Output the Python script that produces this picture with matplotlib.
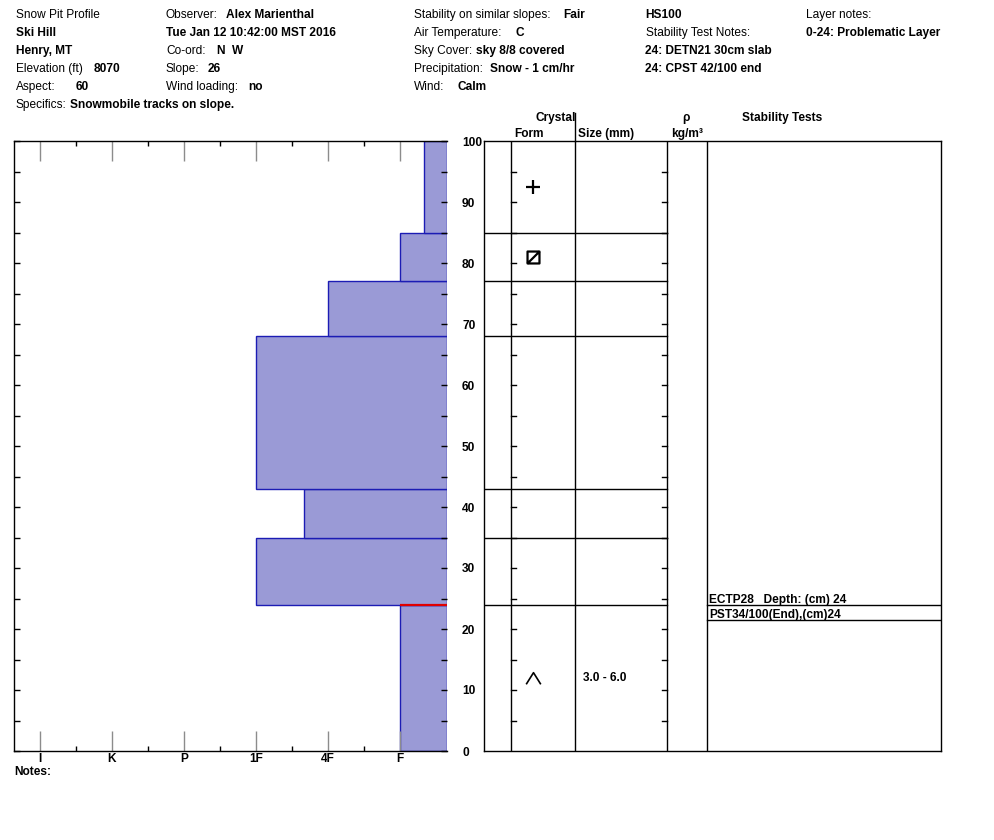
import matplotlib
matplotlib.use('Agg')
import matplotlib.pyplot as plt
from matplotlib.path import Path
import numpy as np

plt.rcParams['font.family'] = ['Liberation Sans', 'DejaVu Sans']

# ---------------- data ----------------
layer_bottom = [0, 24, 35, 43, 68, 77, 85]
layer_top = [24, 35, 43, 68, 77, 85, 100]
layer_hardness = ['F', '1F', '4F+', '1F', '4F', 'F', 'F-']
layer_form = ['DH', '', '', '', '', 'FCxr', 'PP']
layer_size = ['3.0 - 6.0', '', '', '', '', '', '']
hardness_labels = ['I', 'K', 'P', '1F', '4F', 'F']
problem_depth = 24
stability_tests = ['ECTP28   Depth: (cm) 24', 'PST34/100(End),(cm)24']
stability_depth = [24, 24]
depth_ticks = list(range(0, 101, 10))

site = 'Ski Hill'
location = 'Henry, MT'
elevation = '8070'
aspect = '60'
specifics = 'Snowmobile tracks on slope.'
observer = 'Alex Marienthal'
date_str = 'Tue Jan 12 10:42:00 MST 2016'
coord = 'N  W'
slope = '26'
wind_loading = 'no'
stability_similar = 'Fair'
air_temp = 'C'
sky_cover = 'sky 8/8 covered'
precip = 'Snow - 1 cm/hr'
wind = 'Calm'
hs = 'HS100'
test_notes = ['24: DETN21 30cm slab', '24: CPST 42/100 end']
layer_notes = ['0-24: Problematic Layer']

# ---------------- figure ----------------
W, H = 994, 840
fig = plt.figure(figsize=(W / 100, H / 100), dpi=100)
fig.patch.set_facecolor('white')


def fx(px):
    return px / W


def fy(py):
    return 1 - py / H


FS = 8.6


def ftext(x, y, s, bold=False, **kw):
    fig.text(fx(x), fy(y), s, fontsize=FS, fontweight='bold' if bold else 'normal',
             va='baseline', ha=kw.pop('ha', 'left'), color='black', **kw)


# header
rows = [18 + 18 * i for i in range(6)]
ftext(16, rows[0], 'Snow Pit Profile')
ftext(16, rows[1], site, True)
ftext(16, rows[2], location, True)
ftext(16, rows[3], 'Elevation (ft)')
ftext(94, rows[3], elevation, True)
ftext(16, rows[4], 'Aspect:')
ftext(76, rows[4], aspect, True)
ftext(16, rows[5], 'Specifics:')
ftext(70, rows[5], specifics, True)

ftext(166, rows[0], 'Observer:')
ftext(226, rows[0], observer, True)
ftext(166, rows[1], date_str, True)
ftext(166, rows[2], 'Co-ord:')
ftext(217, rows[2], coord, True)
ftext(166, rows[3], 'Slope:')
ftext(208, rows[3], slope, True)
ftext(166, rows[4], 'Wind loading:')
ftext(248, rows[4], wind_loading, True)

ftext(414, rows[0], 'Stability on similar slopes:')
ftext(563, rows[0], stability_similar, True)
ftext(414, rows[1], 'Air Temperature:')
ftext(515, rows[1], air_temp, True)
ftext(414, rows[2], 'Sky Cover:')
ftext(476, rows[2], sky_cover, True)
ftext(414, rows[3], 'Precipitation:')
ftext(490, rows[3], precip, True)
ftext(414, rows[4], 'Wind:')
ftext(458, rows[4], wind, True)

ftext(645, rows[0], hs, True)
ftext(646, rows[1], 'Stability Test Notes:')
for i, n in enumerate(test_notes):
    ftext(645, rows[2 + i], n, True)

ftext(806, rows[0], 'Layer notes:')
for i, n in enumerate(layer_notes):
    ftext(806, rows[1 + i], n, True)

ftext(14, 775, 'Notes:', True)

# ---------------- hardness profile ----------------
base = {lab: i + 1 for i, lab in enumerate(hardness_labels)}


def hval(s):
    # '-' = softer (towards right), '+' = harder (towards left)
    if s.endswith('-'):
        return base[s[:-1]] + 1 / 3
    if s.endswith('+'):
        return base[s[:-1]] - 1 / 3
    return base[s]


xmin, xmax = 1 - 26 / 72, 1 + 407 / 72
ax1 = fig.add_axes([fx(14), fy(751), (447 - 14) / W, (751 - 141) / H])
ax1.set_xlim(xmin, xmax)
ax1.set_ylim(0, 100)
hv = [hval(s) for s in layer_hardness]
ax1.barh(layer_bottom, [xmax - h for h in hv],
         height=[t - b for b, t in zip(layer_bottom, layer_top)], left=hv,
         align='edge', color='#9a9ad6', edgecolor='#1c1cb4', linewidth=1, zorder=1)
pi = layer_top.index(problem_depth)
ax1.plot([hv[pi], xmax], [problem_depth, problem_depth], color='#e00000', lw=1.6, zorder=3,
         solid_capstyle='butt')

ax1.set_xticks(range(1, len(hardness_labels) + 1))
ax1.set_xticklabels(hardness_labels, fontweight='bold', fontsize=FS)
ax1.set_xticks(np.arange(1.5, len(hardness_labels), 1.0), minor=True)
ax1.tick_params(axis='x', which='major', direction='in', top=True, bottom=True,
                length=14.4, color='#8c8c8c', width=1, pad=1.5)
ax1.tick_params(axis='x', which='minor', direction='in', top=True, bottom=True,
                length=3.6, color='black', width=1)
ax1.set_yticks(np.arange(0, 101, 5))
ax1.set_yticklabels([])
ax1.tick_params(axis='y', direction='in', left=True, right=True, length=4, width=1,
                color='black')
ax1.spines['right'].set_visible(False)
for sp in ax1.spines.values():
    sp.set_linewidth(1)

# ---------------- table ----------------
ax2 = fig.add_axes([fx(484), fy(751), (941 - 484) / W, (751 - 141) / H])
ax2.set_xlim(484, 941)
ax2.set_ylim(0, 100)
ax2.set_xticks([])
for sp in ax2.spines.values():
    sp.set_linewidth(1)
ax2.set_yticks(depth_ticks)
ax2.set_yticklabels([str(t) for t in depth_ticks], fontweight='bold', fontsize=FS, ha='left')
ax2.tick_params(axis='y', length=0, pad=15.8)

col_form, col_size, col_rho, col_stab = 511, 575, 667, 707
for c in (col_form, col_size, col_rho, col_stab):
    ax2.axvline(c, color='black', lw=1)
for b in layer_bottom[1:]:
    ax2.plot([484, col_rho], [b, b], color='black', lw=1)
for t in range(5, 100, 5):
    ax2.plot([col_form, col_form + 5], [t, t], color='black', lw=1)
    ax2.plot([col_rho - 5, col_rho], [t, t], color='black', lw=1)

# header of table
cm_per_px = 100 / (751 - 141)


def ty(py):
    return (751 - py) * cm_per_px


hdr = dict(fontsize=FS, fontweight='bold', va='baseline', ha='center', clip_on=False)
ax2.text(556, ty(121), 'Crystal', **hdr)
ax2.text(529, ty(137), 'Form', **hdr)
ax2.text(606, ty(137), 'Size (mm)', **hdr)
ax2.text(686, ty(121), 'ρ', **hdr)
ax2.text(687, ty(137), 'kg/m³', **hdr)
ax2.text(782, ty(121), 'Stability Tests', **hdr)
ax2.plot([col_size, col_size], [100, ty(113)], color='black', lw=1, clip_on=False)

# crystal form symbols
pp_marker = '+'
fc_marker = Path([(-1, -1), (1, -1), (1, 1), (-1, 1), (-1, -1), (-1, -1), (1, 1)],
                 [Path.MOVETO, Path.LINETO, Path.LINETO, Path.LINETO, Path.CLOSEPOLY,
                  Path.MOVETO, Path.LINETO])
dh_marker = Path([(-1, -0.8), (0, 0.8), (1, -0.8)], [Path.MOVETO, Path.LINETO, Path.LINETO])
markers = {'PP': (pp_marker, 9.5, 1.6), 'FCxr': (fc_marker, 8.6, 1.6), 'DH': (dh_marker, 10.5, 1.2)}
for b, t, f, s in zip(layer_bottom, layer_top, layer_form, layer_size):
    yc = (b + t) / 2
    if f:
        m, ms, mw = markers[f]
        ax2.plot([533], [yc], marker=m, ms=ms, mew=mw, mec='black', mfc='none',
                 linestyle='none')
    if s:
        ax2.text(583, yc, s, fontsize=FS, fontweight='bold', va='center', ha='left')

# stability tests
row_h = 15 * cm_per_px
seen = {}
for name, d in zip(stability_tests, stability_depth):
    k = seen.get(d, 0)
    seen[d] = k + 1
    yline = d - k * row_h
    ax2.text(709, yline + 2 * cm_per_px, name, fontsize=FS, fontweight='bold',
             va='baseline', ha='left')
    ax2.plot([col_stab, 941], [yline, yline], color='black', lw=1)

fig.savefig('out.png', dpi=100, facecolor='white')
